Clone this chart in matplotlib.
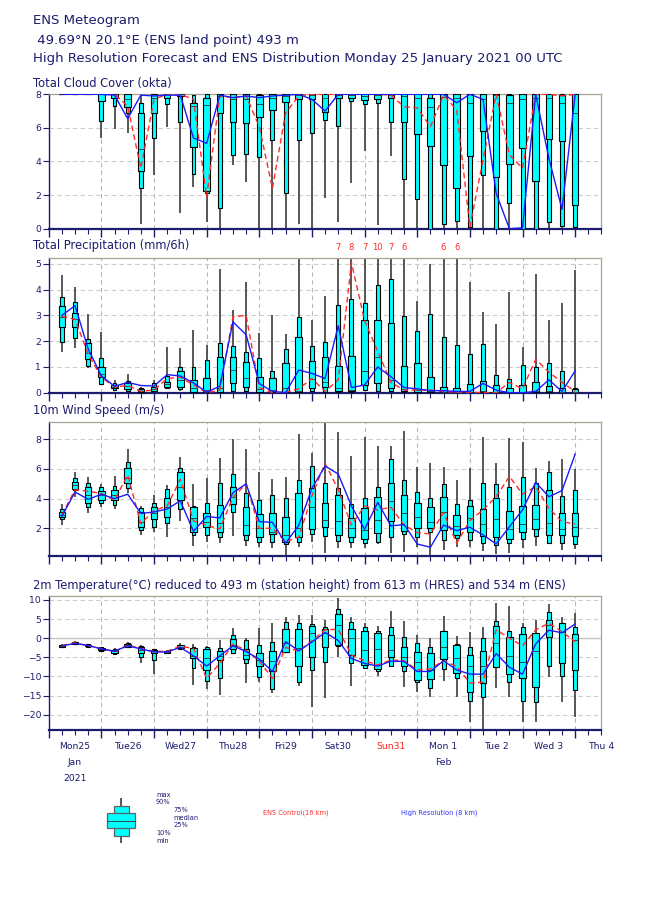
import matplotlib
matplotlib.use("Agg")
import matplotlib.pyplot as plt
import numpy as np

navy = "#1c1c6e"
ctl_col = "#ff2a2a"
hres_col = "#1a1aff"

# forecast steps (hours from Mon 25 Jan 2021 00 UTC)
steps = np.arange(6, 246, 6)

# ---- total cloud cover (okta)
cc_min = [8, 8, 8, 5.4, 5.95, 5.7, 0.26, 3.2, 6.07, 0.95, 2.5, 0.38, 0, 3.8, 2.8, 0, 0, 0, 0.26, 0,
          1.8, 0.38, 2.74, 4.62, 0.2, 4.33, 0, 0, 0, 0, 0, 0, 0, 0, 0, 0, 0, 0, 0, 0]
cc_p10 = [8, 8, 8, 6.4, 7.3, 6.9, 2.4, 5.38, 7.4, 6.37, 3.23, 2.1, 1.23, 4.4, 4.44, 4.25, 5.28, 2.1, 5.3, 5.67,
          6.5, 6.13, 7.6, 7.4, 7.5, 6.33, 2.94, 1.77, 0, 0.28, 0.48, 0.1, 3.17, 0, 1.5, 0, 0, 0.4, 0.16, 0.08]
cc_p25 = [8, 8, 8, 7.6, 7.8, 7.26, 3.45, 6.87, 7.76, 7.9, 4.84, 2.26, 6.9, 6.33, 6.27, 6.63, 7.06, 7.56, 7.7, 7.75,
          6.96, 7.76, 7.76, 7.66, 7.7, 7.76, 6.33, 5.63, 4.94, 3.79, 2.4, 4.33, 5.81, 3.06, 3.85, 4.78, 2.82, 5.34, 5.22, 1.4]
cc_med = [8, 8, 8, 8, 8, 7.7, 4.72, 7.8, 8, 8, 7.3, 7.36, 7.9, 7.7, 7.7, 7.4, 7.8, 7.9, 7.95, 7.95,
          7.8, 7.95, 7.95, 7.9, 7.95, 7.95, 7.9, 7.8, 7.26, 7.85, 7.8, 7.46, 7.7, 7.95, 7.46, 7.7, 7.8, 7.8, 7.46, 6.87]
cc_p75 = [8, 8, 8, 8, 8, 8, 6.87, 8, 8, 8, 7.46, 7.8, 8, 8, 8, 7.95, 8, 8, 8, 8,
          8, 8, 8, 8, 8, 8, 8, 8, 7.76, 8, 8, 8, 8, 8, 7.96, 8, 8, 8, 7.96, 8]
cc_p90 = [8, 8, 8, 8, 8, 8, 7.46, 8, 8, 8, 7.95, 8, 8, 8, 8, 8, 8, 8, 8, 8,
          8, 8, 8, 8, 8, 8, 8, 8, 8, 8, 8, 8, 8, 8, 8, 8, 8, 8, 8, 8]
cc_max = [8] * 40
cc_ctl = [8, 8, 8, 8, 8, 7.3, 3.6, 7.7, 8, 8, 7.7, 1.9, 7.9, 7.8, 7.9, 6.07, 2.4, 6.9, 7.9, 8,
          8, 8, 8, 8, 8, 7.95, 7.26, 7.2, 6.07, 7.96, 7.06, 0.1, 4.1, 8, 4.4, 3.6, 8, 8, 7.9, 8]
cc_hres = [8, 8, 8, 8, 7.95, 6.55, 7.95, 7.9, 7.95, 7.95, 5.4, 5.08, 7.95, 7.8, 7.9, 7.8, 7.9, 7.95, 8, 7.7,
           7.0, 8, 8, 8, 8, 8, 8, 8, 8, 8, 7.5, 8, 7.7, 2.1, 0, 0.05, 8, 4.2, 1.15, 8]

# ---- total precipitation (mm/6h)
tp_min = [1.59, 1.72, 0.95, 0.3, 0.08, 0.06, 0, 0.03, 0.13, 0.08, 0, 0, 0, 0.02, 0.02, 0, 0, 0, 0, 0,
          0, 0, 0, 0.05, 0.05, 0.05, 0, 0, 0, 0, 0, 0, 0, 0, 0, 0, 0, 0, 0, 0]
tp_p10 = [1.98, 2.14, 1.04, 0.32, 0.1, 0.08, 0.02, 0.05, 0.17, 0.13, 0.02, 0.01, 0.01, 0.05, 0.05, 0.01, 0, 0, 0, 0.05,
          0.04, 0.04, 0.04, 0.1, 0.08, 0.08, 0.04, 0, 0, 0, 0, 0, 0, 0, 0, 0, 0, 0, 0, 0]
tp_p25 = [2.54, 2.54, 1.3, 0.62, 0.17, 0.13, 0.04, 0.08, 0.23, 0.23, 0.04, 0.03, 0.03, 0.36, 0.23, 0.04, 0.02, 0.02, 0.02, 0.17,
          0.23, 0.08, 0.06, 0.3, 0.36, 0.2, 0.08, 0.02, 0.01, 0.01, 0, 0, 0.01, 0, 0, 0, 0.01, 0.01, 0, 0]
tp_med = [2.95, 2.85, 1.53, 0.71, 0.23, 0.25, 0.08, 0.14, 0.35, 0.49, 0.17, 0.1, 0.2, 0.88, 0.56, 0.15, 0.1, 0.2, 0.05, 0.55,
          0.43, 0.2, 0.1, 0.85, 1.4, 0.5, 0.15, 0.1, 0.05, 0.04, 0.03, 0.03, 0.05, 0.03, 0.03, 0.02, 0.05, 0.05, 0.02, 0.02]
tp_p75 = [3.38, 3.1, 1.92, 1.01, 0.31, 0.39, 0.14, 0.23, 0.43, 0.84, 0.49, 0.58, 1.37, 1.37, 1.2, 0.62, 0.56, 1.14, 2.18, 1.24,
          1.37, 1.05, 1.44, 2.81, 2.81, 2.7, 1.05, 1.14, 0.6, 0.23, 0.18, 0.32, 0.45, 0.3, 0.19, 0.28, 0.43, 0.27, 0.17, 0.16]
tp_p90 = [3.7, 3.54, 2.07, 1.36, 0.36, 0.44, 0.18, 0.36, 0.65, 1.01, 1.01, 1.27, 1.94, 1.81, 1.59, 1.36, 0.84, 1.68, 2.95, 1.81,
          1.96, 3.4, 3.63, 3.47, 4.18, 4.42, 2.97, 2.4, 3.07, 2.16, 1.84, 1.49, 1.88, 0.7, 0.52, 1.06, 1.0, 1.17, 0.85, 0.2]
tp_max = [4.57, 4.12, 3.06, 2.37, 0.49, 0.72, 0.23, 0.49, 1.76, 1.72, 2.44, 1.85, 4.79, 3.2, 4.31, 2.33, 3.02, 2.28, 5.22, 2.82,
          3.76, 7, 8, 7, 10, 7, 6, 3.56, 4.99, 6, 6, 4.29, 3.15, 2.66, 3.9, 1.79, 4.61, 2.82, 3.5, 4.77]
tp_ctl = [2.97, 2.85, 1.5, 0.6, 0.22, 0.28, 0.06, 0.1, 0.55, 0.6, 0.3, 0, 0.1, 2.95, 3.0, 0.2, 0, 0.02, 0.15, 0.55,
          0.05, 0.5, 5.05, 2.8, 1.6, 0.4, 0.1, 0.1, 0.1, 0.05, 0.02, 0.02, 0, 0, 0.4, 0.15, 1.3, 0.8, 0.4, 0.05]
tp_hres = [3.0, 3.38, 1.7, 0.65, 0.25, 0.4, 0.28, 0.26, 0.7, 0.65, 0.38, 0.02, 0.25, 2.75, 2.25, 0.35, 0.05, 0, 0.88, 0.75,
           0.55, 2.6, 0.2, 0.3, 1.0, 0.62, 0.2, 0.15, 0.08, 0.08, 0.05, 0.05, 0.36, 0.1, 0, 0, 0.05, 0.5, 0.05, 0.85]

# ---- 10m wind speed (m/s)
ws_min = [2.22, 4.13, 3.06, 3.42, 3.28, 4.36, 1.55, 1.78, 1.44, 2.52, 0.83, 1.1, 0.99, 1.48, 0.83, 0.76, 0.65, 0.09, 0.76, 1.1,
          0.36, 0.65, 0.7, 0.65, 0.94, 0.36, 0.43, 0.76, 0.2, 0.54, 0.76, 0.76, 0.5, 0.27, 0.36, 0.7, 0.81, 0.95, 0.54, 0.63]
ws_p10 = [2.61, 4.58, 3.42, 3.73, 3.55, 4.7, 1.89, 2.07, 2.34, 3.28, 1.55, 1.55, 1.44, 3.12, 1.21, 1.1, 1.1, 0.94, 1.1, 1.6,
          1.48, 1.15, 1.1, 1.03, 1.1, 1.39, 1.62, 1.44, 1.78, 1.21, 1.33, 1.21, 0.99, 0.85, 0.99, 1.26, 1.51, 1.03, 0.99, 0.92]
ws_p25 = [2.74, 4.63, 3.69, 3.91, 3.91, 5.03, 2.11, 2.61, 2.79, 3.91, 1.78, 2.07, 1.78, 3.64, 1.55, 1.39, 1.6, 1.1, 1.44, 1.93,
          2.07, 1.55, 1.39, 1.26, 1.71, 2.52, 1.84, 2.0, 2.0, 1.89, 1.55, 1.78, 1.48, 1.39, 1.3, 1.78, 1.93, 1.53, 1.53, 1.48]
ws_med = [2.92, 4.9, 4.25, 4.25, 4.25, 5.37, 2.45, 3.06, 3.46, 4.81, 2.67, 2.45, 2.34, 4.13, 2.22, 2.0, 1.78, 1.55, 2.0, 3.42,
          2.56, 2.52, 2.0, 1.89, 2.56, 3.87, 3.06, 2.74, 2.45, 3.12, 2.16, 2.67, 2.29, 2.63, 1.93, 2.27, 2.61, 2.34, 1.96, 2.11]
ws_p75 = [3.12, 5.15, 4.76, 4.52, 4.58, 6.04, 3.12, 3.46, 4.02, 5.82, 3.46, 3.01, 3.57, 4.76, 3.42, 2.97, 3.01, 2.79, 4.4, 4.7,
          3.73, 4.25, 2.67, 3.35, 4.09, 5.03, 4.22, 3.69, 3.46, 4.13, 2.9, 3.5, 3.28, 4.07, 3.19, 3.53, 3.55, 4.58, 3.01, 3.01]
ws_p90 = [3.28, 5.37, 5.03, 4.76, 4.85, 6.49, 3.35, 3.69, 4.63, 6.04, 3.5, 3.73, 5.03, 5.66, 4.4, 3.91, 4.22, 4.07, 5.26, 6.2,
          5.08, 4.7, 3.64, 4.07, 4.76, 6.65, 5.26, 4.45, 4.02, 4.99, 3.64, 3.91, 5.03, 4.99, 4.76, 5.44, 5.08, 5.82, 4.2, 4.58]
ws_max = [3.64, 5.82, 5.48, 4.99, 5.53, 7.33, 3.51, 4.25, 4.92, 6.83, 4.97, 5.37, 6.76, 8.0, 7.33, 5.78, 5.3, 5.48, 8.34, 7.1,
          9.12, 8.52, 6.88, 8.18, 7.57, 7.55, 8.58, 6.16, 6.38, 6.16, 5.26, 6.07, 8.13, 6.43, 8.07, 7.84, 6.04, 6.56, 6.65, 6.0]
ws_ctl = [2.9, 4.6, 4.5, 4.35, 3.9, 5.6, 2.3, 3.2, 3.5, 5.3, 2.5, 2.2, 1.95, 4.1, 5.0, 2.0, 2.0, 1.1, 1.4, 4.2,
          6.38, 4.6, 2.22, 3.5, 3.24, 3.42, 2.22, 1.7, 1.62, 3.06, 0.99, 2.52, 3.24, 4.13, 5.5, 4.31, 4.81, 3.35, 2.45, 2.29]
ws_hres = [2.8, 4.45, 3.95, 4.3, 4.0, 4.3, 3.0, 3.1, 3.3, 3.85, 1.8, 2.8, 2.7, 4.4, 5.0, 2.45, 2.4, 1.0, 2.2, 4.7,
           6.2, 5.66, 3.5, 1.93, 3.75, 2.16, 2.25, 0.94, 0.72, 2.22, 1.84, 2.07, 1.55, 0.94, 2.1, 3.24, 5.1, 4.13, 4.54, 7.01]

# ---- 2m temperature (deg C)
t2_min = [-2.4, -1.6, -2.3, -3.4, -4.2, -2.6, -6.6, -9.4, -4.2, -3.0, -12.2, -13.4, -14.9, -4.0, -11.6, -11.4, -14.3, -3.8, -12.5, -18.1,
          -15.6, -4.8, -12.5, -8.1, -9.9, -7.4, -12.7, -14.0, -15.3, -11.1, -15.3, -21.8, -24.5, -13.1, -15.3, -21.8, -21.8, -10.1, -16.6, -20.5]
t2_p10 = [-2.3, -1.5, -2.2, -3.3, -4.1, -2.4, -5.0, -5.7, -4.0, -2.7, -7.7, -11.2, -10.5, -3.8, -6.4, -10.1, -13.4, -3.5, -11.5, -8.2,
          -6.3, -2.1, -6.4, -7.9, -8.6, -7.2, -8.5, -11.5, -13.0, -8.1, -10.5, -16.3, -15.3, -7.6, -11.4, -16.4, -16.8, -7.3, -9.8, -13.5]
t2_p25 = [-2.2, -1.4, -2.1, -3.0, -3.8, -2.2, -3.8, -4.0, -3.9, -2.6, -5.3, -8.3, -5.7, -2.9, -5.5, -7.3, -8.7, -3.5, -7.4, -4.8,
          -2.4, -1.8, -4.4, -7.0, -8.1, -5.0, -7.4, -10.9, -10.7, -5.5, -9.2, -14.0, -11.8, -7.6, -9.4, -10.5, -12.7, 0.2, -6.6, -8.3]
t2_med = [-2.0, -1.2, -1.9, -2.7, -3.4, -1.9, -3.1, -3.4, -3.6, -2.2, -4.6, -5.3, -4.6, -1.8, -4.4, -5.7, -5.9, -1.3, -2.5, 1.3,
          1.3, 3.4, 0.0, -3.1, -2.9, -3.1, -5.0, -6.1, -8.3, -2.4, -5.3, -7.4, -7.2, -1.2, -4.6, -6.1, -3.3, 3.5, 1.7, -0.6]
t2_p75 = [-1.8, -1.0, -1.7, -2.5, -3.0, -1.5, -2.4, -3.1, -3.4, -1.9, -2.6, -2.8, -3.3, -0.3, -2.9, -4.0, -3.3, 2.3, 2.3, 3.2,
          2.3, 6.2, 2.3, 1.9, 1.4, 0.7, -2.2, -3.5, -3.8, 2.0, -1.8, -4.4, -3.3, 3.2, 0.4, 1.0, 1.3, 4.8, 3.9, 1.1]
t2_p90 = [-1.7, -0.9, -1.6, -2.4, -2.9, -1.3, -2.0, -2.9, -3.3, -1.8, -2.2, -2.2, -2.6, 0.8, -0.6, -1.9, -0.9, 4.1, 3.9, 3.7,
          3.0, 7.5, 4.1, 2.8, 2.0, 3.0, 0.4, -1.2, -2.4, 2.0, -1.5, -2.2, 0.1, 4.6, 1.9, 2.8, 1.3, 6.8, 3.9, 3.0]
t2_max = [-1.6, -0.8, -1.5, -2.2, -2.6, -1.0, -1.9, -2.7, -3.1, -1.2, -1.5, -2.0, -0.5, 2.6, 0.0, 2.6, 3.9, 5.6, 6.1, 6.1,
          4.8, 10.4, 5.6, 3.9, 3.2, 7.0, 4.6, 0.8, 0.0, 5.8, 0.6, 1.7, 3.0, 9.1, 8.3, 3.9, 4.8, 8.9, 5.6, 6.5]
t2_ctl = [-1.9, -1.2, -2.0, -2.7, -3.5, -1.8, -2.7, -3.5, -3.4, -2.1, -2.7, -10.5, -6.6, -1.5, -3.2, -6.0, -10.5, -2.4, -3.4, -0.7,
          2.2, 2.3, -4.4, -5.9, -7.0, -5.7, -5.9, -8.3, -8.0, -5.9, -7.4, -11.7, -11.5, 2.2, 0.0, -2.0, 2.2, 3.9, 1.7, -0.9]
t2_hres = [-2.0, -1.4, -1.9, -2.8, -3.4, -2.0, -2.8, -3.6, -3.6, -2.4, -4.6, -7.3, -4.6, -2.0, -3.5, -5.5, -8.7, -0.9, -3.3, -1.0,
           1.5, -0.6, -5.3, -6.6, -7.3, -6.0, -6.1, -8.7, -8.7, -5.9, -8.3, -9.4, -9.4, -4.0, -7.6, -9.4, -1.5, 2.1, 1.4, 3.7]

day_labels = ["Mon25", "Tue26", "Wed27", "Thu28", "Fri29", "Sat30", "Sun31", "Mon 1", "Tue 2", "Wed 3", "Thu 4"]
legend_vals = [0, 1, 2, 3, 4, 5, 6]  # min,10,25,median,75,90,max for the key glyph


def draw_boxes(ax, x, mn, p10, p25, med, p75, p90, mx, wide, narrow, lw=0.8, edge="black"):
    mn, p10, p25, med, p75, p90, mx = [np.asarray(a, float) for a in (mn, p10, p25, med, p75, p90, mx)]
    ax.vlines(x, mn, p10, color="#4a4a4a", lw=1.3, zorder=2)
    ax.vlines(x, p90, mx, color="#4a4a4a", lw=1.3, zorder=2)
    ax.bar(x, p90 - p10, bottom=p10, width=narrow, color="#00ffff", edgecolor=edge, lw=lw, zorder=3)
    ax.bar(x, p75 - p25, bottom=p25, width=wide, color="#00ffff", edgecolor=edge, lw=lw, zorder=4)
    ax.hlines(med, np.asarray(x) - wide / 2, np.asarray(x) + wide / 2, color="#303030", lw=0.6, zorder=5)


fig = plt.figure(figsize=(6.5, 9.16), dpi=100)
W, H = 650.0, 916.0

fig.text(33 / W, 1 - 20.5 / H, "ENS Meteogram", fontsize=9.5, color=navy, va="center")
fig.text(33 / W, 1 - 40.3 / H, " 49.69°N 20.1°E (ENS land point) 493 m", fontsize=9.5, color=navy, va="center")
fig.text(33 / W, 1 - 58.5 / H, "High Resolution Forecast and ENS Distribution Monday 25 January 2021 00 UTC",
         fontsize=9.5, color=navy, va="center")

panels = [
    ("Total Cloud Cover (okta)", 94.3, 228.7, (0, 8), [0, 2, 4, 6, 8], 83,
     (cc_min, cc_p10, cc_p25, cc_med, cc_p75, cc_p90, cc_max, cc_ctl, cc_hres)),
    ("Total Precipitation (mm/6h)", 258.0, 392.7, (0, 5.23), [0, 1, 2, 3, 4, 5], 245,
     (tp_min, tp_p10, tp_p25, tp_med, tp_p75, tp_p90, tp_max, tp_ctl, tp_hres)),
    ("10m Wind Speed (m/s)", 422.0, 556.0, (0.13, 9.17), [2, 4, 6, 8], 410.7,
     (ws_min, ws_p10, ws_p25, ws_med, ws_p75, ws_p90, ws_max, ws_ctl, ws_hres)),
    ("2m Temperature(°C) reduced to 493 m (station height) from 613 m (HRES) and 534 m (ENS)", 595.7, 730.0,
     (-24, 11.1), [-20, -15, -10, -5, 0, 5, 10], 585,
     (t2_min, t2_p10, t2_p25, t2_med, t2_p75, t2_p90, t2_max, t2_ctl, t2_hres)),
]

axes = []
for title, top, bot, ylim, yticks, ty, d in panels:
    ax = fig.add_axes([48.7 / W, 1 - bot / H, (601.5 - 48.7) / W, (bot - top) / H])
    axes.append(ax)
    fig.text(33 / W, 1 - ty / H, title, fontsize=8.3, color=navy, va="center")
    mn, p10, p25, med, p75, p90, mx, ctl, hres = d
    draw_boxes(ax, steps, mn, p10, p25, med, p75, p90, mx, wide=3.0, narrow=1.8)
    ax.plot(steps, ctl, color=ctl_col, lw=1.0, ls=(0, (4, 2.5)), zorder=6)
    ax.plot(steps, hres, color=hres_col, lw=1.0, zorder=7)
    ax.set_xlim(0, 252)
    ax.set_ylim(*ylim)
    ax.set_yticks(yticks)
    ax.set_xticks(np.arange(0, 253, 24))
    ax.set_xticks(np.arange(0, 253, 6), minor=True)
    ax.set_xticklabels([])
    ax.tick_params(axis="y", colors=navy, labelsize=6.7, length=4, width=0.8, pad=1.5)
    ax.tick_params(axis="x", which="major", colors=navy, length=6, width=1.0)
    ax.tick_params(axis="x", which="minor", colors=navy, length=3.5, width=0.8)
    ax.set_axisbelow(True)
    ax.yaxis.grid(True, ls=(0, (4, 3)), color="#cccccc", lw=0.8)
    ax.xaxis.grid(True, which="major", ls=(0, (4, 3)), color="#b8b8b8", lw=0.8)
    for s in ("top", "right"):
        ax.spines[s].set_color("#a8a292")
        ax.spines[s].set_linewidth(0.9)
    ax.spines["left"].set_color(navy)
    ax.spines["left"].set_linewidth(1.0)
    ax.spines["bottom"].set_color(navy)
    ax.spines["bottom"].set_linewidth(1.6)

# precipitation maxima beyond the axis top
ax_tp = axes[1]
for x, v in zip(steps, tp_max):
    if v > 5.23:
        ax_tp.annotate(f"{v:.0f}", xy=(x, 1), xycoords=("data", "axes fraction"),
                       xytext=(0, 7.7), textcoords="offset points", ha="center", va="center",
                       fontsize=6, color=ctl_col)

# solid zero line in temperature
axes[3].axhline(0, color="#c4c4c4", lw=0.9, zorder=1.5)

# day labels under the bottom panel
ax_b = axes[3]
for k, lab in enumerate(day_labels):
    ax_b.annotate(lab, xy=(12 + 24 * k, 0), xycoords=("data", "axes fraction"),
                  xytext=(0, -12), textcoords="offset points", ha="center", va="center",
                  fontsize=6.7, color=("#ff2020" if lab == "Sun31" else navy))
for x, lab, dy in [(12, "Jan", -23.5), (12, "2021", -34.8), (12 + 24 * 7, "Feb", -23.5)]:
    ax_b.annotate(lab, xy=(x, 0), xycoords=("data", "axes fraction"),
                  xytext=(0, dy), textcoords="offset points", ha="center", va="center",
                  fontsize=6.7, color=navy)

# key glyph
axl = fig.add_axes([100 / W, 1 - 846 / H, 45 / W, 51 / H])
axl.set_xlim(0, 45)
axl.set_ylim(-0.36, 6.44)
axl.axis("off")
v = legend_vals
draw_boxes(axl, [21.3], [v[0]], [v[1]], [v[2]], [v[3]], [v[4]], [v[5]], [v[6]],
           wide=28, narrow=14.4, lw=0.9, edge="#606060")

kw = dict(fontsize=4.8, color=navy, va="center")
fig.text(156 / W, 1 - 794.7 / H, "max", **kw)
fig.text(156 / W, 1 - 802.3 / H, "90%", **kw)
fig.text(173.3 / W, 1 - 810.3 / H, "75%", **kw)
fig.text(173.3 / W, 1 - 817.7 / H, "median", **kw)
fig.text(173.3 / W, 1 - 825.3 / H, "25%", **kw)
fig.text(156 / W, 1 - 833 / H, "10%", **kw)
fig.text(156 / W, 1 - 840.7 / H, "min", **kw)
fig.text(263.3 / W, 1 - 812.7 / H, "ENS Control(16 km)", fontsize=4.8, color="#ff3030", va="center")
fig.text(401 / W, 1 - 812.7 / H, "High Resolution (8 km)", fontsize=4.8, color="#3333ff", va="center")

fig.savefig("out.png", dpi=100)
